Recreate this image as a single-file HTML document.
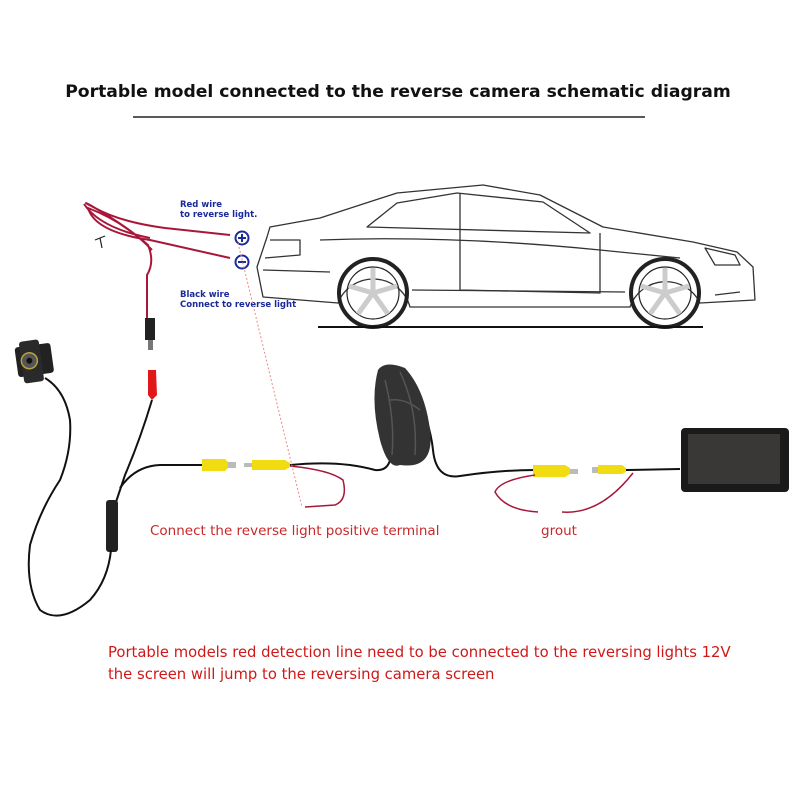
<!DOCTYPE html>
<html><head><meta charset="utf-8"><style>
html,body{margin:0;padding:0;background:#fff;}
svg{display:block}
text{font-family:"DejaVu Sans","Liberation Sans",sans-serif;}
</style></head><body>
<svg width="800" height="800" viewBox="0 0 800 800" xmlns="http://www.w3.org/2000/svg">
<rect width="800" height="800" fill="#fff"/>
<text x="398" y="97" font-size="17.2" font-weight="bold" text-anchor="middle" fill="#111">Portable model connected to the reverse camera schematic diagram</text>
<line x1="133" y1="117" x2="645" y2="117" stroke="#222" stroke-width="1.5"/>

<!-- car -->
<g fill="none" stroke="#333" stroke-width="1.3" stroke-linejoin="round">
<path d="M267,237 L270,227 L320,218 L397,193 L483,185 L540,195 L603,227 L693,242 L737,252 L753,267 L755,300 L700,303 A38,38 0 0 0 630,307 L410,307 A38,38 0 0 0 338,303 L263,297 L257,267 Z"/>
<path d="M367,227 L397,203 L457,193 L543,202 L590,233 Z"/>
<path d="M460,193 L460,290 L600,293 L600,233"/>
<path d="M270,240 L300,240 L300,255 L265,258"/>
<path d="M320,240 Q450,235 600,250 L680,258"/>
<path d="M263,270 L330,272"/>
<path d="M412,290 L625,292"/>
<path d="M705,248 L735,255 L740,265 L715,265 Z"/>
<path d="M715,295 L740,292"/>
</g>
<g fill="none" stroke="#222">
<circle cx="373" cy="293" r="34" stroke-width="4"/>
<circle cx="373" cy="293" r="26" stroke-width="1.2"/>
<circle cx="665" cy="293" r="34" stroke-width="4"/>
<circle cx="665" cy="293" r="26" stroke-width="1.2"/>
<path d="M373,293 L373,268 M373,293 L397,286 M373,293 L388,314 M373,293 L358,314 M373,293 L349,286" stroke-width="5" stroke="#ccc"/>
<path d="M665,293 L665,268 M665,293 L689,286 M665,293 L680,314 M665,293 L650,314 M665,293 L641,286" stroke-width="5" stroke="#ccc"/>
</g>
<line x1="318" y1="327" x2="703" y2="327" stroke="#111" stroke-width="2"/>

<!-- wire labels -->
<text x="180" y="207" font-size="8.5" font-weight="bold" fill="#1a2a9a">Red wire</text>
<text x="180" y="217" font-size="8.5" font-weight="bold" fill="#1a2a9a">to reverse light.</text>
<text x="180" y="297" font-size="8.5" font-weight="bold" fill="#1a2a9a">Black wire</text>
<text x="180" y="307" font-size="8.5" font-weight="bold" fill="#1a2a9a">Connect to reverse light</text>
<circle cx="242" cy="238" r="6.5" fill="none" stroke="#1a2a9a" stroke-width="2"/>
<path d="M238,238 H246 M242,234 V242" stroke="#1a2a9a" stroke-width="2"/>
<circle cx="242" cy="262" r="6.5" fill="none" stroke="#1a2a9a" stroke-width="2"/>
<path d="M238,262 H246" stroke="#1a2a9a" stroke-width="2"/>

<!-- red wire bundle -->
<g fill="none" stroke="#a8173a" stroke-width="2">
<path d="M230,235 L165,228 Q120,222 95,208 Q80,200 90,205 Q125,225 148,245 Q155,262 147,275 L147,320"/>
<path d="M152,250 Q125,222 88,208 Q95,232 150,240 L230,258"/>
<path d="M84,204 Q100,228 150,238"/>
</g>
<path d="M95,240 L105,236 M100,238 L102,248" stroke="#222" stroke-width="1.2"/>
<rect x="145" y="318" width="10" height="22" fill="#222"/>
<rect x="148" y="340" width="5" height="10" fill="#777"/>
<path d="M148,370 L156,370 L157,395 L152,400 L148,395 Z" fill="#e01818"/>
<!-- black cable from DC female down -->
<path d="M152,400 Q140,440 125,475 L115,505" stroke="#111" stroke-width="2" fill="none"/>
<rect x="106" y="500" width="12" height="52" rx="3" fill="#222"/>
<path d="M111,550 Q108,580 90,600 Q60,625 40,610 Q25,585 30,545 Q40,510 60,480 Q72,450 70,420 Q65,390 45,378" stroke="#111" stroke-width="2" fill="none"/>
<!-- camera -->
<g transform="rotate(-8 35 365)">
<rect x="17" y="345" width="36" height="30" rx="3" fill="#222"/>
<rect x="22" y="340" width="20" height="42" rx="3" fill="#2a2a2a"/>
<circle cx="30" cy="360" r="8" fill="#555" stroke="#b8a040" stroke-width="1.5"/>
<circle cx="30" cy="360" r="3" fill="#111"/>
</g>
<!-- camera RCA line -->
<path d="M120,488 Q135,466 160,465 L205,465" stroke="#111" stroke-width="2" fill="none"/>
<path d="M202,459 L225,459 L228,462 L228,468 L225,471 L202,471 Z" fill="#f0dc10"/>
<rect x="228" y="462" width="8" height="6" fill="#bbb"/>
<rect x="244" y="463" width="8" height="4" fill="#bbb"/>
<path d="M252,460 L285,460 L290,463 L290,467 L285,470 L252,470 Z" fill="#f0dc10"/>
<path d="M290,465 Q340,460 375,470 Q395,472 390,440 Q380,380 385,370 Q395,360 410,380 Q430,420 433,450 Q436,480 460,476 Q500,470 535,470" stroke="#111" stroke-width="2" fill="none"/>
<path d="M378,370 Q370,400 380,440 Q388,470 400,465 Q435,470 430,430 Q425,390 405,368 Q385,360 378,370 Z" fill="#333"/>
<path d="M385,380 Q395,420 392,455 M400,372 Q418,410 415,455 M390,400 Q405,398 420,410" stroke="#555" stroke-width="1.5" fill="none"/>
<path d="M290,466 Q330,470 343,480 Q348,500 335,505 L305,507" stroke="#a8173a" stroke-width="1.5" fill="none"/>
<!-- dotted line -->
<line x1="238" y1="243" x2="302" y2="507" stroke="#e88" stroke-width="1" stroke-dasharray="2,2"/>

<!-- right RCA -->
<path d="M533,465 L565,465 L570,468 L570,474 L565,477 L533,477 Z" fill="#f0dc10"/>
<rect x="570" y="469" width="8" height="5" fill="#bbb"/>
<rect x="592" y="467" width="6" height="6" fill="#bbb"/>
<path d="M598,465 L622,465 L626,468 L626,472 L622,474 L598,474 Z" fill="#f0dc10"/>
<path d="M626,470 L680,469" stroke="#111" stroke-width="2"/>
<path d="M535,475 Q500,480 495,492 Q505,510 538,512" stroke="#a8173a" stroke-width="1.5" fill="none"/>
<path d="M562,512 Q600,515 633,473" stroke="#a8173a" stroke-width="1.5" fill="none"/>
<!-- monitor -->
<rect x="681" y="428" width="108" height="64" rx="4" fill="#1a1a1a"/>
<rect x="688" y="434" width="92" height="50" fill="#3a3836"/>

<text x="150" y="535" font-size="13.5" fill="#c8282a">Connect the reverse light positive terminal</text>
<text x="541" y="535" font-size="13.5" fill="#c8282a">grout</text>
<text x="108" y="657" font-size="14.8" fill="#d01818">Portable models red detection line need to be connected to the reversing lights 12V</text>
<text x="108" y="679" font-size="14.8" fill="#d01818">the screen will jump to the reversing camera screen</text>
</svg>
</body></html>
